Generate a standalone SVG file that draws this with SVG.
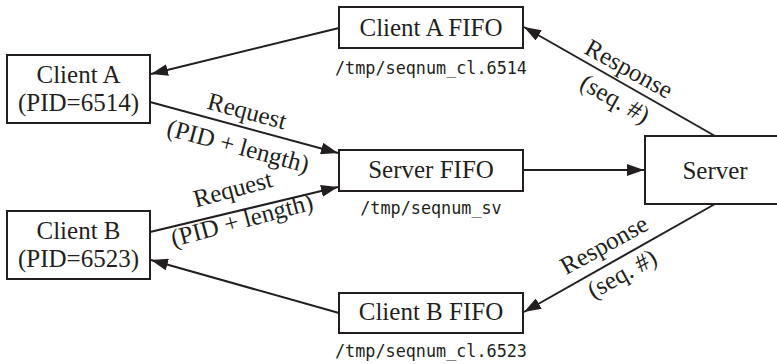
<svg xmlns="http://www.w3.org/2000/svg" width="777" height="364" viewBox="0 0 777 364">
<style>
.box{fill:#fff;stroke:#231f20;stroke-width:2}
.lbl{font-family:"Liberation Serif","Times New Roman",serif;font-size:25px;fill:#231f20;text-anchor:middle}
.mono{font-family:"DejaVu Sans Mono","Liberation Mono",monospace;font-size:16.8px;fill:#231f20;text-anchor:middle}
.conn{stroke:#231f20;stroke-width:2;fill:none;marker-end:url(#ah)}
</style>
<defs>
<marker id="ah" viewBox="0 0 17 12" refX="17" refY="6" markerWidth="17" markerHeight="12" orient="auto" markerUnits="userSpaceOnUse">
<path d="M0,0 L17,6 L0,12 z" fill="#231f20"/>
</marker>
</defs>
<rect width="777" height="364" fill="#fff"/>
<g id="connectors">
<path class="conn" d="M339,28 L151,74"/>
<path class="conn" d="M150,102 L338,153"/>
<path class="conn" d="M150,232 L338,187"/>
<path class="conn" d="M523,170 L644,170"/>
<path class="conn" d="M715,136 L524,27"/>
<path class="conn" d="M715,204 L524,312"/>
<path class="conn" d="M339,313 L151,260"/>
<text class="lbl" transform="translate(245,119) rotate(15)">Request</text>
<text class="lbl" transform="translate(236,154) rotate(15)">(PID + length)</text>
<text class="lbl" transform="translate(235,197) rotate(-15)">Request</text>
<text class="lbl" transform="translate(244,228) rotate(-15)">(PID + length)</text>
<text class="lbl" transform="translate(625,76) rotate(29)">Response</text>
<text class="lbl" transform="translate(611,106) rotate(29)">(seq. #)</text>
<text class="lbl" transform="translate(608,252) rotate(-29)">Response</text>
<text class="lbl" transform="translate(626,281) rotate(-29)">(seq. #)</text>
</g>
<g id="clientA">
<rect class="box" x="7" y="55" width="143" height="68"/>
<text class="lbl" x="78.5" y="83">Client A</text>
<text class="lbl" x="78.5" y="111">(PID=6514)</text>
</g>
<g id="clientB">
<rect class="box" x="7" y="211" width="143" height="68"/>
<text class="lbl" x="78.5" y="239">Client B</text>
<text class="lbl" x="78.5" y="267">(PID=6523)</text>
</g>
<g id="clientAFifo">
<rect class="box" x="339" y="7" width="184" height="41"/>
<text class="lbl" x="431" y="36">Client A FIFO</text>
<text class="mono" x="431" y="74">/tmp/seqnum_cl.6514</text>
</g>
<g id="serverFifo">
<rect class="box" x="339" y="150" width="184" height="41"/>
<text class="lbl" x="431" y="178">Server FIFO</text>
<text class="mono" x="431" y="214">/tmp/seqnum_sv</text>
</g>
<g id="clientBFifo">
<rect class="box" x="339" y="293" width="184" height="40"/>
<text class="lbl" x="431" y="320">Client B FIFO</text>
<text class="mono" x="431" y="357">/tmp/seqnum_cl.6523</text>
</g>
<g id="server">
<rect class="box" x="645" y="136" width="145" height="68"/>
<text class="lbl" x="715" y="179">Server</text>
</g>
</svg>
